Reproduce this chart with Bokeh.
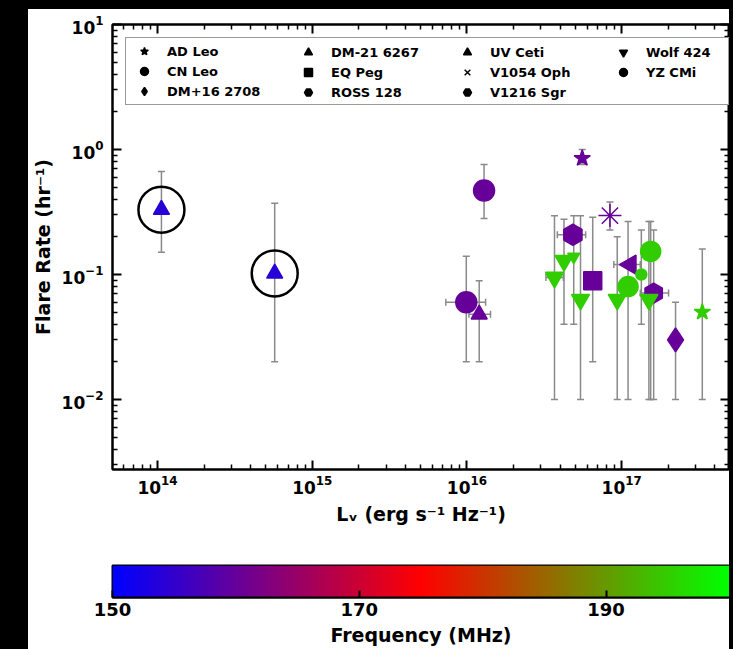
import numpy as np
from math import pi
from bokeh.plotting import figure
from bokeh.models import (ColumnDataSource, Range1d, FixedTicker, LogAxis,
                          CustomJSTickFormatter, Whisker, TeeHead, Legend,
                          LegendItem, LinearColorMapper)
from bokeh.layouts import column
from bokeh.transform import transform
from bokeh.embed import file_html
from bokeh.resources import INLINE

nan = float("nan")

# ---------------- data ----------------
star = ["AD Leo", "AD Leo", "CN Leo", "CN Leo", "DM+16 2708", "DM-21 6267",
        "EQ Peg", "ROSS 128", "UV Ceti", "UV Ceti", "UV Ceti", "V1054 Oph",
        "V1216 Sgr", "Wolf 424", "Wolf 424", "Wolf 424", "Wolf 424", "Wolf 424",
        "Wolf 424", "YZ CMi", "YZ CMi", "YZ CMi"]
lum = [5.56e16, 3.32e17, 9.9e15, 1.29e16, 2.23e17, 1.14e17,
       6.5e16, 1.61e17, 1.06e14, 5.72e14, 1.2e16, 8.4e16,
       4.84e16, 3.68e16, 4.24e16, 5.42e16, 9.36e16, 1.5e17,
       4.9e16, 1.1e17, 1.54e17, 1.34e17]
rate = [0.85, 0.05, 0.06, 0.47, 0.03, 0.12,
        0.089, 0.071, 0.33, 0.102, 0.048, 0.296,
        0.208, 0.0946, 0.129, 0.063, 0.063, 0.063,
        0.139, 0.080, 0.153, 0.10]
rate_lo = [0.76, 0.01, 0.02, 0.28, 0.01, nan,
           0.02, 0.01, 0.151, 0.02, 0.02, 0.227,
           nan, 0.01, 0.04, 0.01, 0.01, 0.01,
           0.04, 0.01, 0.01, 0.04]
rate_hi = [1.0, 0.16, 0.14, 0.76, 0.06, nan,
           0.287, 0.227, 0.667, 0.372, 0.089, 0.38,
           nan, 0.295, 0.277, 0.295, 0.20, 0.265,
           0.295, 0.265, 0.265, 0.227]
lum_lo = [nan, nan, 7.3e15, nan, nan, 8.9e16,
          nan, 1.32e17, nan, nan, 1.03e16, nan,
          3.84e16, 3.24e16, nan, nan, nan, nan,
          nan, nan, nan, nan]
lum_hi = [nan, nan, 1.32e16, nan, nan, 1.32e17,
          nan, 2.01e17, nan, nan, 1.42e16, nan,
          5.85e16, 4.2e16, nan, nan, nan, nan,
          nan, nan, nan, nan]
freq = [160, 195, 160, 160, 160, 160,
        160, 160, 154, 154, 160, 160,
        160, 195, 195, 195, 195, 195,
        195, 195, 195, 195]

legend_names = ["AD Leo", "CN Leo", "DM+16 2708", "DM-21 6267", "EQ Peg", "ROSS 128",
                "UV Ceti", "V1054 Oph", "V1216 Sgr", "Wolf 424", "YZ CMi"]

X_MAJOR = [1e14, 1e15, 1e16, 1e17]
Y_MAJOR = [1e-2, 1e-1, 1e0, 1e1]
CB_TICKS = [150, 170, 190]
FREQ_LOW, FREQ_HIGH = 150, 200
X_LOG_RANGE = (13.709, 17.697)
Y_LOG_RANGE = (-2.56, 1.0)

# ---------------- styles ----------------
MARKERS = {"AD Leo": ("star", 0, 17), "CN Leo": ("circle", 0, 21),
           "DM+16 2708": ("diamond", 0, 24), "DM-21 6267": ("triangle", pi / 2, 19),
           "EQ Peg": ("square", 0, 18), "ROSS 128": ("hex", pi / 2, 20),
           "UV Ceti": ("triangle", 0, 16), "V1054 Oph": ("asterisk", 0, 23),
           "V1216 Sgr": ("hex", pi / 2, 21), "Wolf 424": ("inverted_triangle", 0, 18),
           "YZ CMi": ("circle", 0, 20)}
LEGEND_MARK = dict(MARKERS)
LEGEND_MARK["V1054 Oph"] = ("x", 0, 10)
SMALL = {18: 12, 21: 11}  # point index -> smaller marker size

FONT = "DejaVu Sans"
FRAME_H = 445


def brg(t):
    if t < 0.5:
        r, g, b = 2 * t, 0.0, 1 - 2 * t
    else:
        r, g, b = 2 - 2 * t, 2 * t - 1, 0.0
    return "#%02x%02x%02x" % (int(round(r * 255)), int(round(g * 255)), int(round(b * 255)))


palette = [brg(t) for t in np.linspace(0, 1, 256)]
mapper = LinearColorMapper(palette=palette, low=FREQ_LOW, high=FREQ_HIGH)

# ---------------- main figure ----------------
xmin, xmax = 10 ** X_LOG_RANGE[0], 10 ** X_LOG_RANGE[1]
ymin, ymax = 10 ** Y_LOG_RANGE[0], 10 ** Y_LOG_RANGE[1]
p = figure(width=701, height=526, x_axis_type="log", y_axis_type="log",
           x_range=Range1d(xmin, xmax), y_range=Range1d(ymin, ymax),
           output_backend="svg", toolbar_location=None,
           min_border_left=84, min_border_right=0, min_border_top=15,
           min_border_bottom=66)
p.grid.visible = False
p.outline_line_color = "black"
p.outline_line_width = 2

x_minor = [m * 10.0 ** e for e in range(13, 18) for m in range(2, 10)]
y_minor = [m * 10.0 ** e for e in range(-3, 1) for m in range(2, 10)]
p.xaxis.ticker = FixedTicker(ticks=X_MAJOR, minor_ticks=x_minor)
p.yaxis.ticker = FixedTicker(ticks=Y_MAJOR, minor_ticks=y_minor)


def style_axis(ax, tin=9, tmin=5):
    ax.major_tick_in = tin
    ax.major_tick_out = 0
    ax.minor_tick_in = tmin
    ax.minor_tick_out = 0
    ax.axis_line_width = 2
    ax.axis_line_color = "black"
    ax.major_tick_line_color = "black"
    ax.minor_tick_line_color = "black"
    ax.major_tick_line_width = 2
    ax.minor_tick_line_width = 1.5
    ax.major_label_text_font = FONT
    ax.major_label_text_font_style = "bold"
    ax.major_label_text_font_size = "17px"
    ax.major_label_text_color = "black"
    ax.axis_label_text_font = FONT
    ax.axis_label_text_font_style = "bold"
    ax.axis_label_text_font_size = "19px"
    ax.axis_label_text_color = "black"


# labelled axes (ticks come from the tick-only axes next to the frame)
for ax in p.xaxis + p.yaxis:
    style_axis(ax, 0, 0)
    ax.axis_line_color = None
p.xaxis.major_label_standoff = 5
p.yaxis.major_label_standoff = 9
p.xaxis.axis_label = "L\u1d65 (erg s\u207b\u00b9 Hz\u207b\u00b9)"
p.yaxis.axis_label = "Flare Rate (hr\u207b\u00b9)"
p.xaxis.axis_label_standoff = 6
p.yaxis.axis_label_standoff = 5
main_left = list(p.left)
main_below = list(p.below)

# tick-only axes on all four sides, ticks pointing inwards
blank = CustomJSTickFormatter(code="return ''")


def tick_axis(major, minor):
    ax = LogAxis(ticker=FixedTicker(ticks=major, minor_ticks=minor), formatter=blank)
    style_axis(ax)
    ax.major_label_text_font_size = "0px"
    ax.major_label_standoff = 0
    return ax


top_ax = tick_axis(X_MAJOR, x_minor)
bottom_ax = tick_axis(X_MAJOR, x_minor)
left_ax = tick_axis(Y_MAJOR, y_minor)
right_ax = tick_axis(Y_MAJOR, y_minor)
p.add_layout(top_ax, "above")
p.add_layout(right_ax, "right")
p.left = [left_ax] + main_left
p.below = [bottom_ax] + main_below

# error bars
n = len(lum)
vi = [i for i in range(n) if not np.isnan(rate_lo[i])]
hi_ = [i for i in range(n) if not np.isnan(lum_lo[i])]
vsrc = ColumnDataSource(dict(x=[lum[i] for i in vi], lo=[rate_lo[i] for i in vi],
                             hi=[rate_hi[i] for i in vi]))
hsrc = ColumnDataSource(dict(y=[rate[i] for i in hi_], lo=[lum_lo[i] for i in hi_],
                             hi=[lum_hi[i] for i in hi_]))
EB = "#8a8a8a"
for src, base, dim in ((vsrc, "x", "height"), (hsrc, "y", "width")):
    w = Whisker(source=src, base=base, lower="lo", upper="hi", dimension=dim,
                line_color=EB, line_width=1.5, level="underlay",
                lower_head=TeeHead(size=7, line_color=EB, line_width=1.5),
                upper_head=TeeHead(size=7, line_color=EB, line_width=1.5))
    p.add_layout(w)

# data points
src = ColumnDataSource(dict(
    x=lum, y=rate, freq=freq,
    marker=[MARKERS[s][0] for s in star],
    angle=[MARKERS[s][1] for s in star],
    size=[SMALL.get(i, MARKERS[s][2]) for i, s in enumerate(star)],
))
p.scatter("x", "y", source=src, marker="marker", angle="angle", size="size",
          fill_color=transform("freq", mapper), line_color=transform("freq", mapper),
          line_width=1.5)

# rings around the lowest-frequency detections
ring = [i for i in range(n) if freq[i] < 155]
p.scatter([lum[i] for i in ring], [rate[i] for i in ring], marker="circle", size=46,
          fill_color=None, line_color="black", line_width=2.5)

# legend (black markers), 4 columns
dummy = {}
for name in legend_names:
    m, a, _ = LEGEND_MARK[name]
    dummy[name] = p.scatter([nan], [nan], marker=m, angle=a, size=10,
                            fill_color="black", line_color="black", line_width=1.5)

cols = [legend_names[0:3], legend_names[3:6], legend_names[6:9], legend_names[9:11]]
col_x = [13, 178, 337, 493]
LEG_TOP = 39 - 24  # distance of legend top below the frame top
GH, SP, PAD, GW, STAND = 20, 0, 3, 30, 8
for k, names in enumerate(cols):
    items = [LegendItem(label=nm, renderers=[dummy[nm]]) for nm in names]
    hgt = 2 * PAD + len(names) * GH + (len(names) - 1) * SP
    leg = Legend(items=items, location=(col_x[k], FRAME_H - LEG_TOP - hgt),
                 orientation="vertical", glyph_width=GW, glyph_height=GH,
                 label_height=GH, label_standoff=STAND, spacing=SP, padding=PAD, margin=0,
                 label_text_font=FONT, label_text_font_style="bold",
                 label_text_font_size="13px", label_text_color="black")
    if k == 0:
        leg.label_width = 602 - 2 * PAD - GW - STAND
        leg.border_line_color = "#333333"
        leg.border_line_width = 1.5
        leg.background_fill_color = "white"
        leg.background_fill_alpha = 1.0
    else:
        leg.border_line_alpha = 0
        leg.background_fill_alpha = 0
    p.add_layout(leg, "center")

# ---------------- colour bar ----------------
p2 = figure(width=701, height=114, x_range=Range1d(FREQ_LOW, FREQ_HIGH),
            y_range=Range1d(0, 1), y_axis_location=None,
            output_backend="svg", toolbar_location=None,
            min_border_left=84, min_border_right=0, min_border_top=30,
            min_border_bottom=52)
p2.grid.visible = False
p2.outline_line_color = "black"
p2.outline_line_width = 2
grad = np.linspace(FREQ_LOW, FREQ_HIGH, 512).reshape(1, -1)
p2.image(image=[grad], x=FREQ_LOW, y=0, dw=FREQ_HIGH - FREQ_LOW, dh=1, color_mapper=mapper)
ax2 = p2.xaxis[0]
style_axis(ax2, 7, 0)
ax2.ticker = FixedTicker(ticks=CB_TICKS, minor_ticks=[])
ax2.major_label_text_font_size = "18px"
ax2.major_label_standoff = 5
ax2.axis_label = "Frequency (MHz)"
ax2.axis_label_standoff = 5

inner = column(p, p2, styles={"background-color": "white"})
inner.margin = (9, 4, 0, 28)
layout = column(inner, styles={"background-color": "black"})
open("out.html", "w").write(file_html(layout, INLINE))
